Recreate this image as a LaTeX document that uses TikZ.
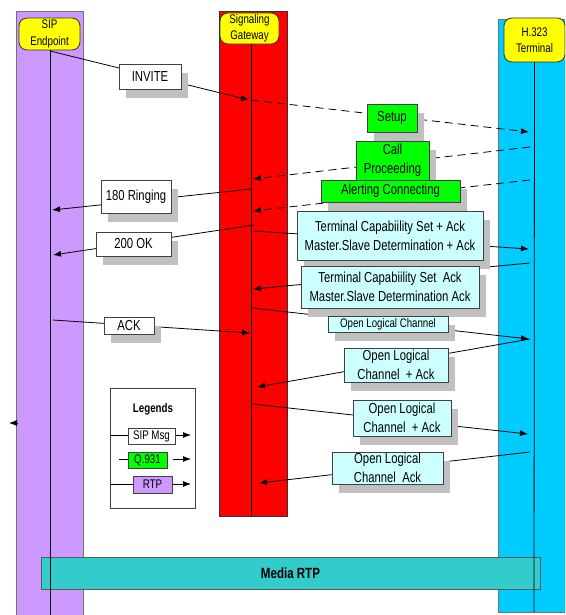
\documentclass[tikz,border=0pt]{standalone}
\usepackage{fontspec}
\setmainfont[FakeStretch=0.78]{Liberation Sans}
\usetikzlibrary{arrows.meta,shadows}
\definecolor{sippurple}{HTML}{CC99FF}
\definecolor{gwred}{HTML}{FF0000}
\definecolor{hcyan}{HTML}{00CCFF}
\definecolor{hdyellow}{HTML}{FFFF00}
\definecolor{qgreen}{HTML}{00FF00}
\definecolor{lcyan}{HTML}{CCFFFF}
\definecolor{rtpteal}{HTML}{33CCCC}
\definecolor{shadowgray}{HTML}{C0C0C0}
\newcommand{\msgfont}{\fontsize{14.5}{19}\selectfont}
\newcommand{\smfont}{\fontsize{12.5}{16.5}\selectfont}
\begin{document}
\begin{tikzpicture}[x=1pt,y=-1pt,
  bar/.style={draw=black!55, line width=1pt},
  header/.style={draw=black!80, line width=0.8pt, fill=hdyellow, rounded corners=8pt, inner sep=0pt, align=center, font=\smfont},
  life/.style={draw=black, line width=0.8pt},
  sig/.style={draw=black, line width=0.8pt},
  dsig/.style={sig, dash pattern=on 8pt off 5pt},
  arr/.style={-{Latex[length=8pt,width=6pt]}},
  msg/.style={draw=black!75, line width=0.8pt, inner sep=0pt, align=center, font=\msgfont,
    drop shadow={shadow xshift=7pt, shadow yshift=-9pt, fill=shadowgray, opacity=1}},
  leg/.style={draw=black!75, line width=0.8pt, inner sep=0pt, align=center, font=\smfont}]
\useasboundingbox (0,0) rectangle (565,615);
\clip (0,0) rectangle (565,615);
% bars
\path[bar, fill=sippurple] (16,12) rectangle (83,620);
\path[bar, fill=gwred, draw=black!80] (219,12) rectangle (287,516);
\path[bar, fill=hcyan] (498,20) rectangle (575,612);
% headers
\node[header, minimum width=61pt, minimum height=32pt] (sip) at (49.5,34) {SIP\\Endpoint};
\node[header, minimum width=59pt, minimum height=31pt] (gw) at (249.5,28.5) {Signaling\\Gateway};
\node[header, minimum width=61pt, minimum height=44pt] (h323) at (534.5,40) {H.323\\Terminal};
% media RTP
\node[draw=black!65, line width=1pt, fill=rtpteal, minimum width=499pt, minimum height=32pt, inner sep=0pt,
  font=\fontsize{14.8}{16}\selectfont\bfseries] (rtp) at (290.5,573) {Media RTP};
% lifelines
\coordinate (sipB) at (50,620);
\coordinate (gwB) at (251,516);
\coordinate (hB) at (534,612);
\draw[life] (sip.south) ++(0.5,0) -- (sipB);
\draw[life] (gw.south) ++(1.5,0) -- (gwB);
\draw[life] (h323.south) -- (hB);
% message endpoints
\coordinate (invS) at (50,51);   \coordinate (invE) at (249,100);
\coordinate (setS) at (251,100); \coordinate (setE) at (529,132);
\coordinate (cpS) at (530,147);  \coordinate (cpE) at (253,179);
\coordinate (alS) at (530,180);  \coordinate (alE) at (253,211);
\coordinate (rgS) at (252,189);  \coordinate (rgE) at (52,210);
\coordinate (okS) at (254,225);  \coordinate (okE) at (53,255);
\coordinate (tcS) at (254,231);  \coordinate (tcE) at (529,249);
\coordinate (taS) at (530,263);  \coordinate (taE) at (253,289);
\coordinate (olS) at (252,308);  \coordinate (olE) at (529,339);
\coordinate (ackS) at (53,320);  \coordinate (ackE) at (250,333);
\coordinate (oaS) at (530,339);  \coordinate (oaE) at (257,387);
\coordinate (obS) at (252,404);  \coordinate (obE) at (528,434);
\coordinate (ocS) at (530,452);  \coordinate (ocE) at (259,483);
\coordinate (lfS) at (18,423);   \coordinate (lfE) at (9,423);
% connectors
\draw[sig, arr] (invS) -- (invE);
\draw[dsig, arr] (setS) -- (setE);
\draw[dsig, arr] (cpS) -- (cpE);
\draw[dsig, arr] (alS) -- (alE);
\draw[sig, arr] (rgS) -- (rgE);
\draw[sig, arr] (okS) -- (okE);
\draw[sig, arr] (tcS) -- (tcE);
\draw[sig, arr] (taS) -- (taE);
\draw[sig, arr] (olS) -- (olE);
\draw[sig, arr] (ackS) -- (ackE);
\draw[sig, arr] (oaS) -- (oaE);
\draw[sig, arr] (obS) -- (obE);
\draw[sig, arr] (ocS) -- (ocE);
\draw[sig, arr] (lfS) -- (lfE);
% message boxes
\node[msg, fill=white, minimum width=62pt, minimum height=25pt] (invite) at (150,76.5) {INVITE};
\node[msg, fill=qgreen, minimum width=50pt, minimum height=28pt] (setup) at (392,118) {Setup};
\node[msg, fill=qgreen, minimum width=73pt, minimum height=39pt] (callp) at (392.5,160.5) {Call\\Proceeding};
\node[msg, fill=qgreen, minimum width=139pt, minimum height=22pt] (alert) at (390.5,191) {Alerting Connecting};
\node[msg, fill=white, minimum width=70pt, minimum height=33pt] (ring) at (136,196.5) {180 Ringing};
\node[msg, fill=white, minimum width=75pt, minimum height=24pt] (ok) at (133.5,244) {200 OK};
\node[msg, fill=lcyan, minimum width=186pt, minimum height=49pt] (tcs) at (390,235.5) {Terminal Capabiility Set + Ack\\Master.Slave Determination + Ack};
\node[msg, fill=lcyan, minimum width=178pt, minimum height=42pt] (tca) at (390,287) {Terminal Capabiility Set\ \ Ack\\Master.Slave Determination Ack};
\node[msg, fill=lcyan, minimum width=120pt, minimum height=16pt, font=\fontsize{12.4}{14}\selectfont] (olc) at (388,324) {Open Logical Channel};
\node[msg, fill=white, minimum width=50pt, minimum height=17pt] (ack) at (129,325.5) {ACK};
\node[msg, fill=lcyan, minimum width=104pt, minimum height=34pt] (olca) at (396,365) {Open Logical\\Channel\ \ + Ack};
\node[msg, fill=lcyan, minimum width=98pt, minimum height=36pt] (olcb) at (402,418) {Open Logical\\Channel\ \ + Ack};
\node[msg, fill=lcyan, minimum width=111pt, minimum height=32pt] (olcc) at (387.5,468) {Open Logical\\Channel\ \ Ack};
% legend
\node[draw=black!75, line width=0.8pt, fill=white, minimum width=85pt, minimum height=120pt, inner sep=0pt] (legbox) at (152.5,448) {};
\node[font=\fontsize{12.5}{14}\selectfont\bfseries, inner sep=0pt] (legt) at (153,409) {Legends};
\coordinate (l1S) at (110,435); \coordinate (l1E) at (191,435);
\coordinate (l2a) at (119,459); \coordinate (l2b) at (128,459);
\coordinate (l2S) at (173,459); \coordinate (l2E) at (191,459);
\coordinate (l3S) at (110,484); \coordinate (l3E) at (191,484);
\draw[sig, arr] (l1S) -- (l1E);
\draw[sig] (l2a) -- (l2b);
\draw[sig, arr] (l2S) -- (l2E);
\draw[sig, arr] (l3S) -- (l3E);
\node[leg, fill=white, minimum width=47pt, minimum height=16pt] (lsip) at (151.5,436) {SIP Msg};
\node[leg, fill=qgreen, minimum width=39pt, minimum height=16pt] (lq) at (147.5,460) {Q.931};
\node[leg, fill=sippurple, minimum width=39pt, minimum height=17pt] (lrtp) at (152.5,484.5) {RTP};
\end{tikzpicture}
\end{document}
